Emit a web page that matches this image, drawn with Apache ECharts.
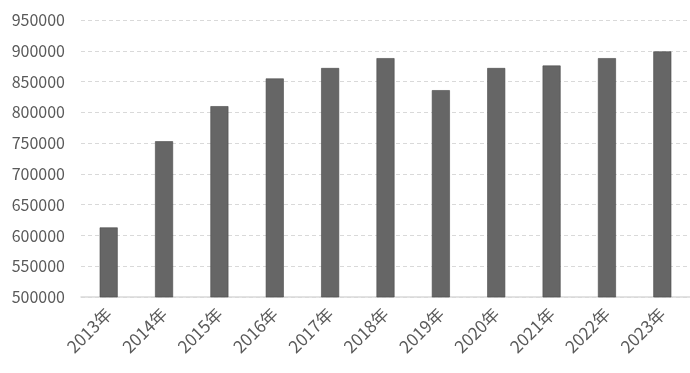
<!DOCTYPE html>
<html><head><meta charset="utf-8">
<script src="https://cdn.jsdelivr.net/npm/echarts@6/dist/echarts.min.js"></script>
<style>html,body{margin:0;padding:0;background:#fff}#c{width:690px;height:373px}</style>
</head><body><div id="c"></div>
<script>
const categories = ['2013年','2014年','2015年','2016年','2017年','2018年','2019年','2020年','2021年','2022年','2023年'];
const values = [613000, 753000, 810000, 855000, 872000, 888000, 836000, 872000, 876000, 888000, 899000];
const yMin = 500000, yMax = 950000, yStep = 50000;

const chart = echarts.init(document.getElementById('c'), null, {renderer:'canvas'});
chart.setOption({
  animation: false,
  grid: {left: 81, top: 20, width: 614, bottom: 76, containLabel: false},
  xAxis: {
    type: 'category', data: categories,
    axisLine: {show: true, lineStyle: {color: '#d9d9d9', width: 1.5}},
    axisTick: {show: false},
    axisLabel: {rotate: 45, color: '#595959', fontSize: 17, margin: 14, interval: 0,
      fontFamily: '"Noto Sans CJK SC", "Noto Sans", sans-serif'}
  },
  yAxis: {
    type: 'value', min: yMin, max: yMax, interval: yStep,
    axisLine: {show: false}, axisTick: {show: false},
    axisLabel: {color: '#595959', fontSize: 16, margin: 16,
      formatter: v => String(v),
      fontFamily: '"Noto Sans CJK SC", "Noto Sans", sans-serif'},
    splitLine: {show: true, lineStyle: {color: '#d9d9d9', type: [4, 3], width: 1}}
  },
  series: [{
    type: 'bar', data: values, barWidth: 18,
    itemStyle: {color: '#666666', borderColor: '#4a4a4a', borderWidth: 0.6}
  }]
});
</script></body></html>
